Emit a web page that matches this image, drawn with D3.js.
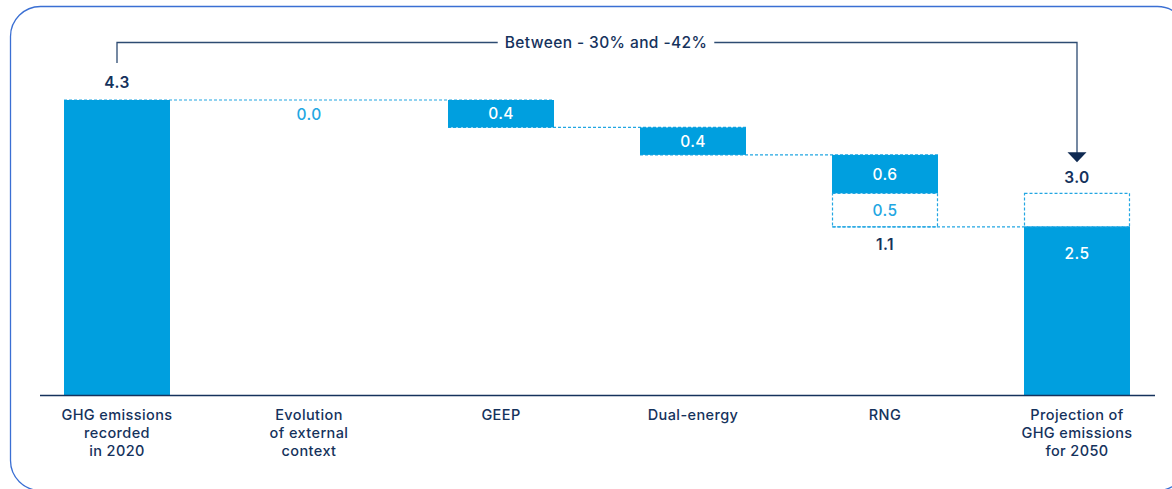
<!DOCTYPE html>
<html>
  <head>
    <script src="https://d3js.org/d3.v7.min.js"></script>
    <style>
      body,
      html {
        margin: 0;
        background: #fff;
        font-family: "Inter", "Roboto", sans-serif;
        overflow: hidden;
      }
    </style>
    <title>GHG emissions waterfall</title>
  </head>
  <body>
    <svg id="chart" width="1172" height="489"></svg>

    <script>
      // categories along the x axis (lines of each label)
      var categories = [
        ["GHG emissions", "recorded", "in 2020"],
        ["Evolution", "of external", "context"],
        ["GEEP"],
        ["Dual-energy"],
        ["RNG"],
        ["Projection of", "GHG emissions", "for 2050"],
      ];
      // start value and the reductions (estimated, labels rounded)
      var startValue = 4.3;
      var reductions = [0.0, 0.4, 0.4, 0.56];
      var reductionLabels = ["0.0", "0.4", "0.4", "0.6"];
      // uncertain extra part of RNG
      var rngExtra = 0.49;
      var rngExtraLabel = "0.5";
      var rngTotalLabel = "1.1";
      var endLow = 2.45;
      var endHigh = 2.94;
      var endLowLabel = "2.5";
      var endHighLabel = "3.0";
      var rangeLabel = "Between - 30% and -42%";

      var barColor = "#009fdf";
      var dashColor = "#22a6e2";
      var navy = "#15325c";

      var svg = d3.select("#chart");

      // frame
      svg
        .append("rect")
        .attr("x", 10.5)
        .attr("y", 6.5)
        .attr("width", 1177)
        .attr("height", 484)
        .attr("rx", 30)
        .attr("fill", "none")
        .attr("stroke", "#3a6fd3")
        .attr("stroke-width", 1.3);

      var x = d3
        .scaleBand()
        .domain(d3.range(categories.length))
        .range([21, 1173])
        .paddingInner(0.448)
        .paddingOuter(0.224);

      var y = d3.scaleLinear().domain([0, startValue]).range([395, 100]);

      var bw = x.bandwidth();
      var cx = function (i) {
        return x(i) + bw / 2;
      };

      // running levels
      var levels = [startValue];
      reductions.forEach(function (r) {
        levels.push(levels[levels.length - 1] - r);
      });
      var afterRng = levels[levels.length - 1] - rngExtra;

      // dashed connectors, one per level (zero steps extend the line)
      var connectors = [];
      for (var i = 1; i <= reductions.length; i++) {
        var last = connectors[connectors.length - 1];
        if (last && last.v === levels[i - 1]) {
          last.to = i;
        } else {
          connectors.push({ from: i - 1, to: i, v: levels[i - 1] });
        }
      }
      connectors.push({ from: 4, to: 5, v: afterRng });

      svg
        .selectAll(".conn")
        .data(connectors)
        .enter()
        .append("line")
        .attr("class", "conn")
        .attr("x1", (d) => x(d.from))
        .attr("x2", (d) => x(d.to) + bw)
        .attr("y1", (d) => y(d.v))
        .attr("y2", (d) => y(d.v))
        .attr("stroke", dashColor)
        .attr("stroke-width", 1.2)
        .attr("stroke-dasharray", "3,2");

      // start bar
      svg
        .append("rect")
        .attr("x", x(0))
        .attr("y", y(startValue))
        .attr("width", bw)
        .attr("height", y(0) - y(startValue))
        .attr("fill", barColor);

      // reduction bars (skip zero)
      var steps = reductions.map(function (r, k) {
        return { i: k + 1, top: levels[k], bottom: levels[k + 1], label: reductionLabels[k] };
      });

      svg
        .selectAll(".step")
        .data(steps.filter((d) => d.top - d.bottom > 0))
        .enter()
        .append("rect")
        .attr("class", "step")
        .attr("x", (d) => x(d.i))
        .attr("y", (d) => y(d.top))
        .attr("width", bw)
        .attr("height", (d) => y(d.bottom) - y(d.top))
        .attr("fill", barColor);

      svg
        .selectAll(".steplbl")
        .data(steps)
        .enter()
        .append("text")
        .attr("class", "steplbl")
        .attr("x", (d) => cx(d.i))
        .attr("y", (d) => (d.top - d.bottom > 0 ? (y(d.top) + y(d.bottom)) / 2 : y(d.top) + 15))
        .attr("dy", "0.35em")
        .attr("text-anchor", "middle")
        .attr("fill", (d) => (d.top - d.bottom > 0 ? "#fff" : dashColor))
        .style("font-size", "15.5px")
        .style("font-weight", 500)
        .style("letter-spacing", "0.4px")
        .text((d) => d.label);

      // uncertain RNG box
      var rngTop = levels[levels.length - 1];
      svg
        .append("rect")
        .attr("x", x(4) + 0.5)
        .attr("y", y(rngTop))
        .attr("width", bw - 1)
        .attr("height", y(afterRng) - y(rngTop))
        .attr("fill", "none")
        .attr("stroke", dashColor)
        .attr("stroke-width", 1.2)
        .attr("stroke-dasharray", "3,2");

      svg
        .append("text")
        .attr("x", cx(4))
        .attr("y", (y(rngTop) + y(afterRng)) / 2)
        .attr("dy", "0.35em")
        .attr("text-anchor", "middle")
        .attr("fill", dashColor)
        .style("font-size", "15.5px")
        .style("font-weight", 500)
        .style("letter-spacing", "0.4px")
        .text(rngExtraLabel);

      svg
        .append("text")
        .attr("x", cx(4))
        .attr("y", y(afterRng) + 18)
        .attr("dy", "0.35em")
        .attr("text-anchor", "middle")
        .attr("fill", navy)
        .style("font-size", "15.5px")
        .style("font-weight", 600)
        .style("letter-spacing", "0.4px")
        .text(rngTotalLabel);

      // end bar and its uncertain box
      svg
        .append("rect")
        .attr("x", x(5))
        .attr("y", y(endLow))
        .attr("width", bw)
        .attr("height", y(0) - y(endLow))
        .attr("fill", barColor);

      svg
        .append("rect")
        .attr("x", x(5) + 0.5)
        .attr("y", y(endHigh))
        .attr("width", bw - 1)
        .attr("height", y(endLow) - y(endHigh))
        .attr("fill", "none")
        .attr("stroke", dashColor)
        .attr("stroke-width", 1.2)
        .attr("stroke-dasharray", "3,2");

      svg
        .append("text")
        .attr("x", cx(5))
        .attr("y", y(endLow) + 27)
        .attr("dy", "0.35em")
        .attr("text-anchor", "middle")
        .attr("fill", "#fff")
        .style("font-size", "15.5px")
        .style("font-weight", 500)
        .style("letter-spacing", "0.4px")
        .text(endLowLabel);

      svg
        .append("text")
        .attr("x", cx(5))
        .attr("y", y(endHigh) - 16)
        .attr("dy", "0.35em")
        .attr("text-anchor", "middle")
        .attr("fill", navy)
        .style("font-size", "15.5px")
        .style("font-weight", 600)
        .style("letter-spacing", "0.4px")
        .text(endHighLabel);

      svg
        .append("text")
        .attr("x", cx(0))
        .attr("y", y(startValue) - 17)
        .attr("dy", "0.35em")
        .attr("text-anchor", "middle")
        .attr("fill", navy)
        .style("font-size", "15.5px")
        .style("font-weight", 600)
        .style("letter-spacing", "0.4px")
        .text(startValue.toFixed(1));

      // baseline
      svg
        .append("line")
        .attr("x1", 40)
        .attr("x2", 1155)
        .attr("y1", y(0) + 0.5)
        .attr("y2", y(0) + 0.5)
        .attr("stroke", navy)
        .attr("stroke-width", 1.3);

      // category labels
      var cat = svg
        .selectAll(".cat")
        .data(categories)
        .enter()
        .append("text")
        .attr("class", "cat")
        .attr("text-anchor", "middle")
        .attr("fill", navy)
        .style("font-size", "14.5px")
        .style("font-weight", 500)
        .style("letter-spacing", "0.4px");

      cat
        .selectAll("tspan")
        .data((d, i) => d.map((t) => ({ t: t, i: i })))
        .enter()
        .append("tspan")
        .attr("x", (d) => cx(d.i))
        .attr("y", (d, k) => y(0) + 20 + k * 18)
        .attr("dy", "0.35em")
        .text((d) => d.t);

      // top bracket with arrow
      var bracketY = 42.5;
      var arrowX = cx(5);
      svg
        .append("path")
        .attr(
          "d",
          "M" + cx(0) + "," + (y(startValue) - 37) +
            "V" + bracketY +
            "H" + arrowX +
            "V" + (y(endHigh) - 40)
        )
        .attr("fill", "none")
        .attr("stroke", "#2d4b72")
        .attr("stroke-width", 1.3);

      svg
        .append("path")
        .attr(
          "d",
          "M" + (arrowX - 9.5) + "," + (y(endHigh) - 41) +
            "L" + (arrowX + 9.5) + "," + (y(endHigh) - 41) +
            "L" + arrowX + "," + (y(endHigh) - 31) + "Z"
        )
        .attr("fill", "#0f2a52");

      var mid = 606;
      var bg = svg.append("rect").attr("fill", "#fff");
      var rl = svg
        .append("text")
        .attr("x", mid)
        .attr("y", bracketY)
        .attr("dy", "0.35em")
        .attr("text-anchor", "middle")
        .attr("fill", navy)
        .style("font-size", "15.5px")
        .style("font-weight", 500)
        .style("letter-spacing", "0.4px")
        .text(rangeLabel);

      var bb = rl.node().getBBox();
      bg.attr("x", bb.x - 7)
        .attr("y", bb.y)
        .attr("width", bb.width + 14)
        .attr("height", bb.height);
    </script>
  </body>
</html>
